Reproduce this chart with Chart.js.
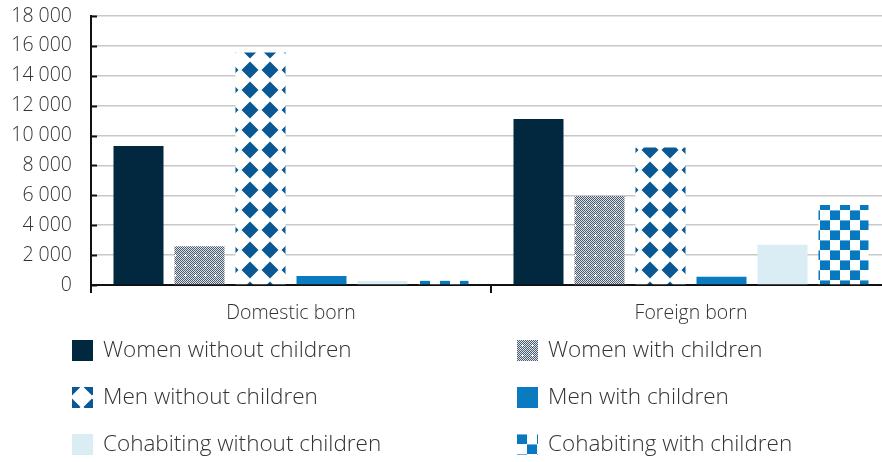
<!DOCTYPE html>
<html>
<head>
<meta charset="utf-8">
<script src="https://cdn.jsdelivr.net/npm/chart.js@4"></script>
<style>
  html, body { margin: 0; padding: 0; background: #fff; overflow: hidden; }
  #wrap { position: relative; width: 891px; height: 462px; }
</style>
</head>
<body>
<div id="wrap"><canvas id="grafico"></canvas></div>
<script>
const categorias = ["Domestic born", "Foreign born"];
const etiquetasSeries = [
  "Women without children",
  "Women with children",
  "Men without children",
  "Men with children",
  "Cohabiting without children",
  "Cohabiting with children",
];
const mujeresSinHijos = [9300, 11100];
const mujeresConHijos = [2600, 5950];
const hombresSinHijos = [15550, 9200];
const hombresConHijos = [600, 560];
const convivientesSinHijos = [270, 2700];
const convivientesConHijos = [290, 5350];
const ticksY = [0, 2000, 4000, 6000, 8000, 10000, 12000, 14000, 16000, 18000];

const fuente = "'Open Sans', 'Noto Sans', sans-serif";
const colorTexto = "#333333";

const crearTile = (tam, dibujar) => {
  const c = document.createElement("canvas");
  c.width = tam;
  c.height = tam;
  const ctx = c.getContext("2d");
  dibujar(ctx, tam);
  return document.createElement("canvas").getContext("2d").createPattern(c, "repeat");
};

// gris fino con puntitos blancos
const patronMujeresConHijos = crearTile(10, (ctx, t) => {
  for (let y = 0; y < t; y++) {
    for (let x = 0; x < t; x++) {
      ctx.fillStyle = (x + y) % 2 === 0 ? "#485b70" : "#dde2e7";
      ctx.fillRect(x, y, 1, 1);
    }
  }
  ctx.fillStyle = "#ffffff";
  ctx.fillRect(4, 5, 3, 1);
  ctx.fillRect(5, 4, 1, 3);
});

// rombos azules sobre blanco
const patronHombresSinHijos = crearTile(20, (ctx, t) => {
  ctx.fillStyle = "#ffffff";
  ctx.fillRect(0, 0, t, t);
  const cx = t / 2;
  const cy = t / 2;
  const r = 8.5;
  ctx.fillStyle = "#0b5994";
  ctx.beginPath();
  ctx.moveTo(cx, cy - r);
  ctx.lineTo(cx + r, cy);
  ctx.lineTo(cx, cy + r);
  ctx.lineTo(cx - r, cy);
  ctx.closePath();
  ctx.fill();
  ctx.beginPath();
  ctx.arc(cx, cy, 5.5, 0, Math.PI * 2);
  ctx.fill();
});

// damero azul y blanco
const patronConvivientesConHijos = crearTile(20, (ctx, t) => {
  ctx.fillStyle = "#ffffff";
  ctx.fillRect(0, 0, t, t);
  const mitad = t / 2;
  [[0, 0], [mitad, mitad]].forEach(([x, y]) => {
    ctx.fillStyle = "#0679c0";
    ctx.fillRect(x, y, mitad, mitad);
    ctx.fillStyle = "#6fb3dd";
    ctx.fillRect(x, y, mitad, 1);
  });
});

const valoresSeries = [
  mujeresSinHijos,
  mujeresConHijos,
  hombresSinHijos,
  hombresConHijos,
  convivientesSinHijos,
  convivientesConHijos,
];
const rellenos = [
  "#02283f",
  patronMujeresConHijos,
  patronHombresSinHijos,
  "#0a7ac1",
  "#daedf5",
  patronConvivientesConHijos,
];

const formatearMiles = (valor) =>
  String(valor).replace(/\B(?=(\d{3})+(?!\d))/g, " ");

// marcas cortas hacia adentro del eje Y
const marcasInternas = {
  id: "marcasInternas",
  afterDatasetsDraw(chart) {
    const { ctx, scales } = chart;
    const y = scales.y;
    const x0 = chart.chartArea.left;
    ctx.save();
    ctx.strokeStyle = "#111111";
    ctx.lineWidth = 2;
    ticksY.forEach((v) => {
      const py = Math.round(y.getPixelForValue(v)) + 0.5;
      ctx.beginPath();
      ctx.moveTo(x0, py);
      ctx.lineTo(x0 + 6, py);
      ctx.stroke();
    });
    ctx.restore();
  },
};

// leyenda en dos columnas
const leyendaGrilla = {
  id: "leyendaGrilla",
  afterDraw(chart) {
    const { ctx } = chart;
    const columnasCaja = [72, 517];
    const columnasTexto = [103, 548];
    const filas = [350, 397, 444];
    ctx.save();
    ctx.font = `300 22.5px ${fuente}`;
    ctx.textBaseline = "middle";
    chart.data.datasets.forEach((ds, i) => {
      const col = i % 2;
      const fila = Math.floor(i / 2);
      const yc = filas[fila];
      const bx = columnasCaja[col];
      const by = yc - 10;
      ctx.save();
      ctx.translate(bx - 10, by - 10);
      ctx.fillStyle = ds.backgroundColor;
      ctx.fillRect(10, 10, 21, 21);
      ctx.restore();
      ctx.fillStyle = colorTexto;
      ctx.fillText(ds.label, columnasTexto[col], yc + 1);
    });
    ctx.restore();
  },
};

new Chart(document.querySelector("#grafico"), {
  type: "bar",
  data: {
    labels: categorias,
    datasets: valoresSeries.map((valores, i) => ({
      label: etiquetasSeries[i],
      data: valores,
      backgroundColor: rellenos[i],
      borderWidth: 0,
      categoryPercentage: 0.915,
      barPercentage: 0.82,
    })),
  },
  options: {
    responsive: true,
    maintainAspectRatio: false,
    animation: false,
    layout: { padding: { top: 16, right: 0, bottom: 137, left: 0 } },
    plugins: {
      legend: { display: false },
      tooltip: { enabled: false },
    },
    scales: {
      x: {
        grid: {
          display: true,
          drawOnChartArea: false,
          drawTicks: true,
          tickLength: 8,
          tickColor: "#111111",
          lineWidth: 2,
        },
        border: { display: true, color: "#111111", width: 2 },
        ticks: {
          color: colorTexto,
          font: { family: fuente, size: 19.5, weight: 300 },
          padding: 9,
        },
        afterFit: (escala) => {
          escala.height = 40;
        },
      },
      y: {
        min: 0,
        max: 18000,
        afterBuildTicks: (escala) => {
          escala.ticks = ticksY.map((v) => ({ value: v }));
        },
        grid: {
          color: "#c8c8c8",
          lineWidth: 1.5,
          drawTicks: true,
          tickLength: 17,
          tickColor: "rgba(0,0,0,0)",
        },
        border: { display: true, color: "#111111", width: 2 },
        ticks: {
          color: colorTexto,
          font: { family: fuente, size: 19.5, weight: 300 },
          padding: 2,
          callback: (v) => formatearMiles(v),
        },
        afterFit: (escala) => {
          escala.width = 91;
        },
      },
    },
  },
  plugins: [marcasInternas, leyendaGrilla],
});
</script>
</body>
</html>
